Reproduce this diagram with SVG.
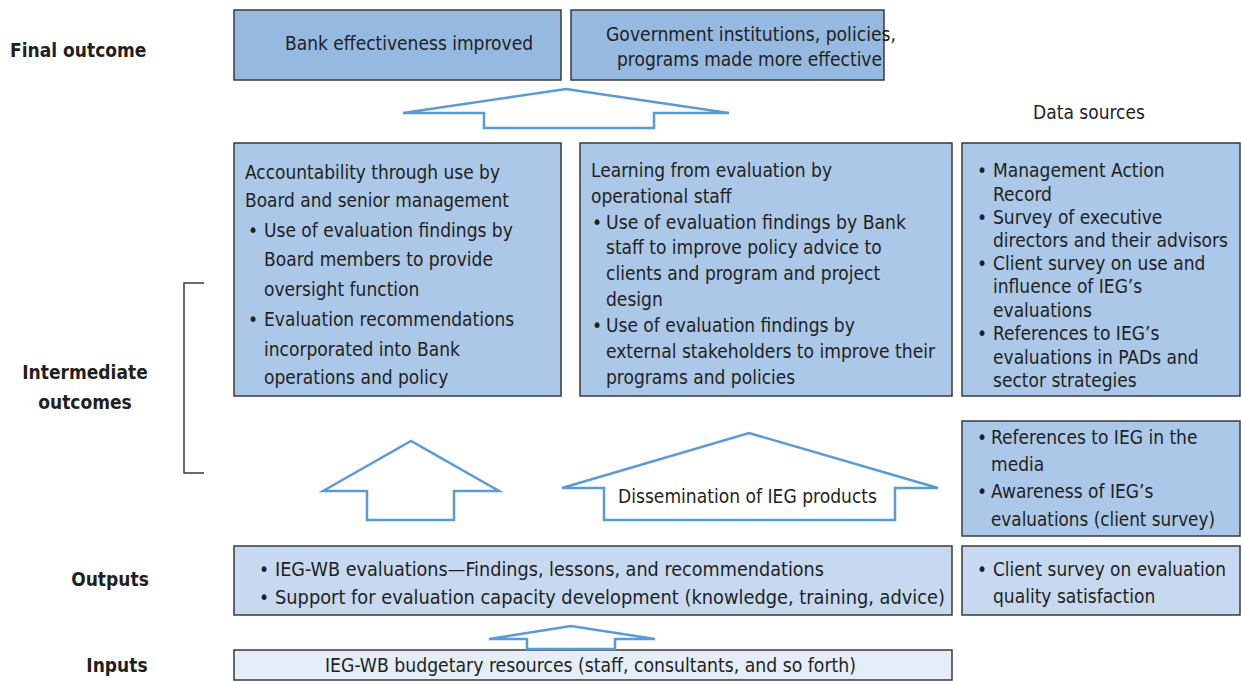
<svg xmlns="http://www.w3.org/2000/svg" width="1241" height="681" viewBox="0 0 1241 681">
<style>
text{font-family:"Liberation Sans Narrow","DejaVu Sans Condensed","Liberation Sans",sans-serif;font-size:19px;fill:#231f20}
.lbl{font-weight:bold;font-size:19px}
.c{text-anchor:middle}
.b1{fill:#95b9e1;stroke:#3a3a3a;stroke-width:1.5}
.b2{fill:#abc8e9;stroke:#3a3a3a;stroke-width:1.5}
.b3{fill:#c6d9f0;stroke:#3a3a3a;stroke-width:1.5}
.b4{fill:#e4edf8;stroke:#3a3a3a;stroke-width:1.5}
.arr{fill:#fff;stroke:#5b9bd5;stroke-width:2.5;stroke-linejoin:miter}
</style>
<rect width="1241" height="681" fill="#fff"/>
<g id="labels">
<text class="lbl" x="10" y="57">Final outcome</text>
<text class="lbl c" x="85" y="379">Intermediate</text>
<text class="lbl c" x="85" y="409">outcomes</text>
<text class="lbl c" x="110" y="586">Outputs</text>
<text class="lbl c" x="117" y="672">Inputs</text>
<text class="c" x="1089" y="119">Data sources</text>
<path d="M204,283 H184 V473 H204" fill="none" stroke="#3a3a3a" stroke-width="1.5"/>
</g>
<g id="final1"><rect class="b1" x="234" y="10" width="327" height="70"/>
<text x="285" y="50" textLength="248" lengthAdjust="spacingAndGlyphs">Bank effectiveness improved</text></g>
<g id="final2"><rect class="b1" x="571" y="10" width="313" height="70"/>
<text x="606" y="41" textLength="290" lengthAdjust="spacingAndGlyphs">Government institutions, policies,</text>
<text x="617" y="66" textLength="265" lengthAdjust="spacingAndGlyphs">programs made more effective</text></g>
<g id="accountability"><rect class="b2" x="234" y="143" width="327" height="253"/>
<text x="245" y="179" textLength="255" lengthAdjust="spacingAndGlyphs">Accountability through use by</text>
<text x="245" y="207" textLength="264" lengthAdjust="spacingAndGlyphs">Board and senior management</text>
<text x="248" y="237">•</text><text x="264" y="237">Use of evaluation findings by</text>
<text x="264" y="266">Board members to provide</text>
<text x="264" y="296">oversight function</text>
<text x="248" y="326">•</text><text x="264" y="326">Evaluation recommendations</text>
<text x="264" y="356">incorporated into Bank</text>
<text x="264" y="384">operations and policy</text></g>
<g id="learning"><rect class="b2" x="580" y="143" width="372" height="253"/>
<text x="591" y="177" textLength="241" lengthAdjust="spacingAndGlyphs">Learning from evaluation by</text>
<text x="591" y="203">operational staff</text>
<text x="592" y="229">•</text><text x="606" y="229" textLength="300" lengthAdjust="spacingAndGlyphs">Use of evaluation findings by Bank</text>
<text x="606" y="254">staff to improve policy advice to</text>
<text x="606" y="280">clients and program and project</text>
<text x="606" y="306">design</text>
<text x="592" y="332">•</text><text x="606" y="332">Use of evaluation findings by</text>
<text x="606" y="358" textLength="329" lengthAdjust="spacingAndGlyphs">external stakeholders to improve their</text>
<text x="606" y="384">programs and policies</text></g>
<g id="datasources1"><rect class="b2" x="962" y="143" width="278" height="253"/>
<text x="977" y="177">•</text><text x="993" y="177">Management Action</text>
<text x="993" y="201">Record</text>
<text x="977" y="224">•</text><text x="993" y="224">Survey of executive</text>
<text x="993" y="247" textLength="235" lengthAdjust="spacingAndGlyphs">directors and their advisors</text>
<text x="977" y="270">•</text><text x="993" y="270">Client survey on use and</text>
<text x="993" y="293">influence of IEG’s</text>
<text x="993" y="317">evaluations</text>
<text x="977" y="340">•</text><text x="993" y="340">References to IEG’s</text>
<text x="993" y="364">evaluations in PADs and</text>
<text x="993" y="387">sector strategies</text></g>
<g id="datasources2"><rect class="b2" x="962" y="421" width="278" height="115"/>
<text x="977" y="444">•</text><text x="991" y="444">References to IEG in the</text>
<text x="991" y="471">media</text>
<text x="977" y="498">•</text><text x="991" y="498">Awareness of IEG’s</text>
<text x="991" y="526" textLength="224" lengthAdjust="spacingAndGlyphs">evaluations (client survey)</text></g>
<g id="outputs"><rect class="b3" x="234" y="546" width="718" height="69"/>
<text x="259" y="576">•</text><text x="275" y="576" textLength="549" lengthAdjust="spacingAndGlyphs">IEG-WB evaluations—Findings, lessons, and recommendations</text>
<text x="259" y="604">•</text><text x="275" y="604" textLength="670" lengthAdjust="spacingAndGlyphs">Support for evaluation capacity development (knowledge, training, advice)</text></g>
<g id="datasources3"><rect class="b3" x="962" y="546" width="278" height="69"/>
<text x="977" y="576">•</text><text x="993" y="576" textLength="233" lengthAdjust="spacingAndGlyphs">Client survey on evaluation</text>
<text x="993" y="603">quality satisfaction</text></g>
<g id="inputs"><rect class="b4" x="234" y="650" width="718" height="30"/>
<text x="325" y="672" textLength="531" lengthAdjust="spacingAndGlyphs">IEG-WB budgetary resources (staff, consultants, and so forth)</text></g>
<g id="connectors">
<polygon class="arr" points="403,113 566,89 729,113 654,113 654,128 484,128 484,113"/>
<polygon class="arr" points="323,491 411,441 499,491 454,491 454,520 367,520 367,491"/>
<g id="dissemination"><polygon class="arr" points="562,488 749,433 938,488 895,488 895,520 604,520 604,488"/>
<text x="618" y="503" textLength="259" lengthAdjust="spacingAndGlyphs">Dissemination of IEG products</text></g>
<polygon class="arr" points="489,639 571,626 655,639 615,639 615,649 527,649 527,639"/>
</g>
</svg>
